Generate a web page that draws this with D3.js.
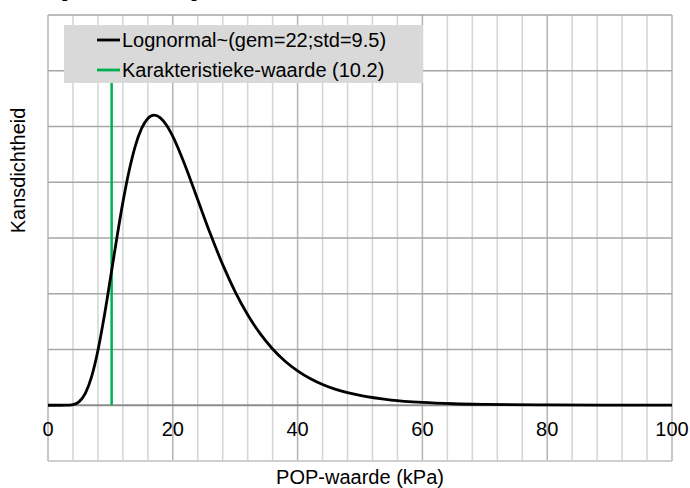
<!DOCTYPE html>
<html>
<head>
<meta charset="utf-8">
<script src="https://cdn.jsdelivr.net/npm/d3@7"></script>
<style>
  body { margin: 0; background: #fff; }
  text { font-family: "Liberation Sans", Arial, sans-serif; }
</style>
</head>
<body>
<div id="chart"></div>
<script>
// POP-waarde (kPa) and density
const popValues = [0, 2, 3, 4, 5, 6, 7, 8, 9, 10, 11, 12, 13, 14, 15, 16, 17, 18, 19, 20,
  22, 24, 26, 28, 30, 32, 34, 36, 38, 40, 42, 44, 46, 48, 50, 55, 60, 65, 70, 80, 90, 100];
const densityValues = [0, 0.0000001, 0.000008, 0.000113, 0.000646, 0.00216, 0.00517, 0.00982,
  0.01586, 0.02274, 0.02979, 0.03639, 0.04206, 0.04654, 0.04965, 0.05145, 0.05203, 0.05156,
  0.05023, 0.04823, 0.04293, 0.03685, 0.03079, 0.02522, 0.02035, 0.01623, 0.01284, 0.01009,
  0.00789, 0.00616, 0.00479, 0.00372, 0.00289, 0.00225, 0.00175, 0.00093, 0.0005, 0.00027,
  0.00015, 0.00005, 0.000016, 0.000005];
const charValue = 10.2;
const xTicks = [0, 20, 40, 60, 80, 100];
const xGrid = [0, 4, 8, 12, 16, 20, 24, 28, 32, 36, 40, 44, 48, 52, 56, 60, 64, 68, 72, 76, 80, 84, 88, 92, 96, 100];
const yGrid = [-0.01, 0, 0.01, 0.02, 0.03, 0.04, 0.05, 0.06, 0.07];
const legendLabels = ["Lognormal~(gem=22;std=9.5)", "Karakteristieke-waarde (10.2)"];
const legendColors = ["#000000", "#00b050"];

const width = 690, height = 488;
const margin = { top: 15, right: 18, bottom: 27, left: 48 };

const svg = d3.select("#chart").append("svg")
  .attr("width", width).attr("height", height);

const x = d3.scaleLinear().domain([0, 100]).range([margin.left, width - margin.right]);
const y = d3.scaleLinear().domain([-0.01, 0.07]).range([height - margin.bottom, margin.top]);

// title (cut off above the view, only descenders show)
svg.append("text")
  .attr("x", 42).attr("y", -2)
  .style("font-size", "15px").style("font-weight", "bold")
  .text("Lognormale verdeling");

// vertical gridlines
svg.append("g").selectAll("line")
  .data(xGrid)
  .join("line")
  .attr("x1", d => x(d)).attr("x2", d => x(d))
  .attr("y1", y(0.07)).attr("y2", y(-0.01))
  .attr("stroke", d => d % 20 === 0 ? "#b4b4b4" : "#d4d4d4")
  .attr("stroke-width", 1.5);

// horizontal gridlines
svg.append("g").selectAll("line")
  .data(yGrid)
  .join("line")
  .attr("x1", x(0)).attr("x2", x(100))
  .attr("y1", d => y(d)).attr("y2", d => y(d))
  .attr("stroke", d => d === 0 ? "#8c8c8c" : (d < 0 ? "#cfcfcf" : "#a6a6a6"))
  .attr("stroke-width", d => (d === 0 || d < 0) ? 2 : 1.3);

// x tick labels
svg.append("g").selectAll("text")
  .data(xTicks)
  .join("text")
  .attr("x", d => x(d)).attr("y", 436)
  .attr("text-anchor", "middle")
  .style("font-size", "20px")
  .text(d => d);

// axis titles
svg.append("text")
  .attr("x", (x(0) + x(100)) / 2).attr("y", 484)
  .attr("text-anchor", "middle")
  .style("font-size", "20px")
  .text("POP-waarde (kPa)");

svg.append("text")
  .attr("transform", "translate(25,170.5) rotate(-90)")
  .attr("text-anchor", "middle")
  .style("font-size", "20px")
  .text("Kansdichtheid");

// characteristic value
svg.append("line")
  .attr("x1", x(charValue)).attr("x2", x(charValue))
  .attr("y1", y(0)).attr("y2", 83)
  .attr("stroke", legendColors[1]).attr("stroke-width", 2.5);

// lognormal curve
const line = d3.line()
  .x((d, i) => x(popValues[i]))
  .y(d => y(d))
  .curve(d3.curveMonotoneX);

svg.append("path")
  .datum(densityValues)
  .attr("d", line)
  .attr("fill", "none")
  .attr("stroke", "#000")
  .attr("stroke-width", 2.8);

// legend
const legend = svg.append("g");
legend.append("rect")
  .attr("x", 64).attr("y", 25).attr("width", 359).attr("height", 58)
  .attr("fill", "#d9d9d9");

const item = legend.selectAll("g.item")
  .data(legendLabels)
  .join("g")
  .attr("class", "item")
  .attr("transform", (d, i) => `translate(97,${40 + i * 30})`);

item.append("line")
  .attr("x1", 0).attr("x2", 23)
  .attr("stroke", (d, i) => legendColors[i])
  .attr("stroke-width", 2.8);

item.append("text")
  .attr("x", 25).attr("y", 0)
  .attr("dy", "0.36em")
  .style("font-size", "20px")
  .text(d => d);
</script>
</body>
</html>
